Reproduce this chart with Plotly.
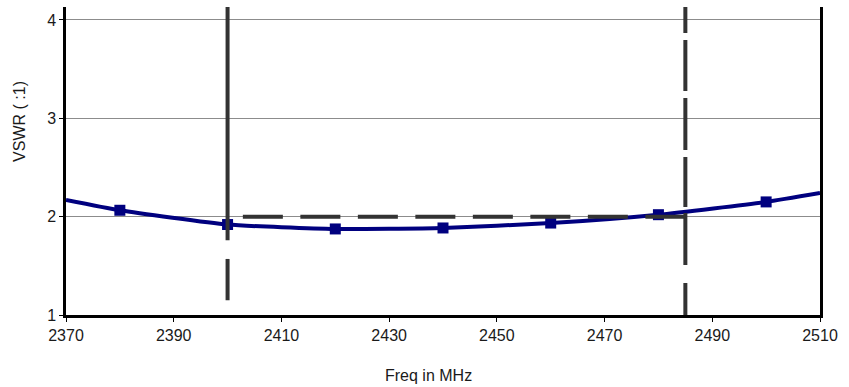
import plotly.graph_objects as go

# VSWR sweep across the 2.4 GHz band
freq_mhz = [2370, 2380, 2400, 2420, 2440, 2460, 2480, 2500, 2510]
vswr = [2.17, 2.065, 1.92, 1.875, 1.885, 1.935, 2.02, 2.15, 2.24]
marker_shown = [False, True, True, True, True, True, True, True, False]

# Band edges and VSWR limit
band_low = 2400
band_high = 2485
vswr_limit = 2

x_ticks = [2370, 2390, 2410, 2430, 2450, 2470, 2490, 2510]
y_ticks = [1, 2, 3, 4]
x_range = [2370, 2510]
y_range = [1, 4.132]

x_title = "Freq in MHz"
y_title = "VSWR ( :1)"

ref_color = "#333333"
curve_color = "#00007f"
text_color = "#1a1a1a"
font_family = "Liberation Sans, Arial, sans-serif"

fig = go.Figure()
fig.add_trace(go.Scatter(
    x=freq_mhz,
    y=vswr,
    mode="lines+markers",
    line=dict(color=curve_color, width=4, shape="spline", smoothing=0.5),
    marker=dict(symbol="square", color=curve_color, opacity=1,
                size=[11 if m else 0 for m in marker_shown],
                line=dict(width=0)),
    cliponaxis=False,
    showlegend=False,
))

shapes = [
    # lower band edge: solid upper part, single dash below
    dict(type="line", xref="x", yref="y", x0=band_low, x1=band_low,
         y0=y_range[1], y1=1.76, line=dict(color=ref_color, width=4)),
    dict(type="line", xref="x", yref="y", x0=band_low, x1=band_low,
         y0=1.57, y1=1.15, line=dict(color=ref_color, width=4)),
    # upper band edge, long dashes
    dict(type="line", xref="x", yref="y", x0=band_high, x1=band_high,
         y0=y_range[1], y1=y_range[0],
         line=dict(color=ref_color, width=4,
                   dash="26px,7px,51px,7px,52px,7px,50px,6px,52px,18px,40px,100px")),
    # VSWR limit across the band
    dict(type="line", xref="x", yref="y", x0=band_high, x1=band_low,
         y0=vswr_limit, y1=vswr_limit,
         line=dict(color=ref_color, width=4, dash="40px,17.5px")),
]
for s in shapes:
    s["layer"] = "above"

# axis titles placed as annotations (paper coordinates)
annotations = [
    dict(text=x_title, xref="paper", yref="paper", x=0.481, y=-0.195,
         xanchor="center", yanchor="middle", showarrow=False,
         font=dict(size=16, color=text_color)),
    dict(text=y_title, xref="paper", yref="paper", x=-0.061, y=0.627,
         xanchor="center", yanchor="middle", textangle=-90, showarrow=False,
         font=dict(size=16, color=text_color)),
]

fig.update_layout(
    width=849, height=387,
    margin=dict(l=66, r=29, t=7, b=72),
    paper_bgcolor="white",
    plot_bgcolor="white",
    font=dict(family=font_family, size=16, color=text_color),
    shapes=shapes,
    annotations=annotations,
    xaxis=dict(
        range=x_range, tickvals=x_ticks, ticktext=[str(v) for v in x_ticks],
        showgrid=False, zeroline=False,
        showline=True, linecolor="black", linewidth=2.5,
        ticks="outside", ticklen=4, tickcolor="black", tickwidth=1,
        tickfont=dict(size=16, color=text_color),
    ),
    yaxis=dict(
        range=y_range, tickvals=y_ticks, ticktext=[str(v) for v in y_ticks],
        showgrid=True, gridcolor="#8c8c8c", gridwidth=1, zeroline=False,
        showline=True, linecolor="black", linewidth=2.5, mirror=True,
        ticks="outside", ticklen=4, tickcolor="black", tickwidth=1,
        tickfont=dict(size=16, color=text_color),
    ),
)

fig.write_html("out.html")
